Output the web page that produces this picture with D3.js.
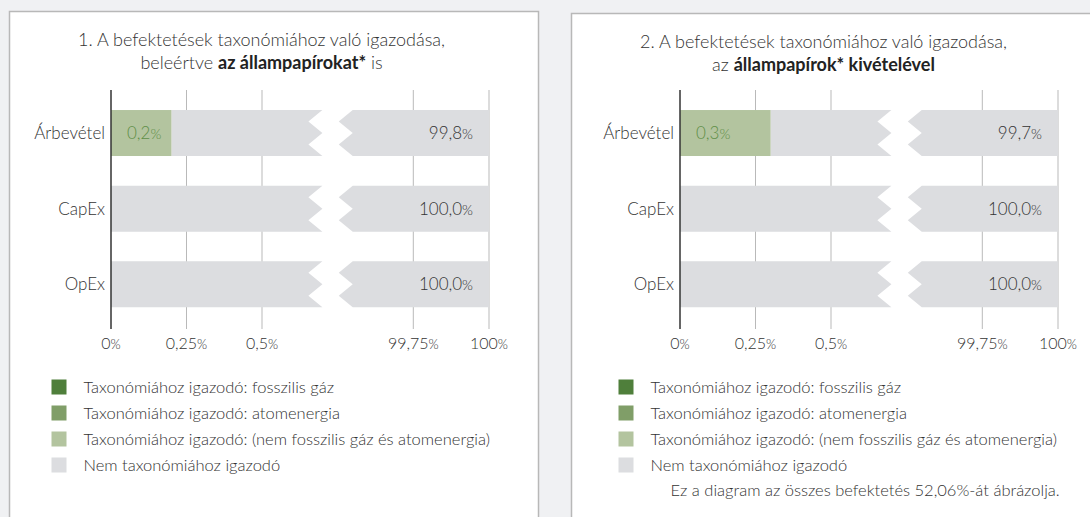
<!DOCTYPE html>
<html>
<head>
<meta charset="utf-8">
<script src="https://cdn.jsdelivr.net/npm/d3@7"></script>
<style>
  body { margin: 0; background: #f0f1f3; }
  svg { display: block; font-family: Lato, "Open Sans", sans-serif; }
</style>
</head>
<body>
<svg id="chart" width="1090" height="517"></svg>
<script>
// data
var categories = ["Árbevétel", "CapEx", "OpEx"];
var alignedIncl = [0.2, 0, 0];
var notAlignedIncl = [99.8, 100, 100];
var alignedExcl = [0.3, 0, 0];
var notAlignedExcl = [99.7, 100, 100];
var tickValues = [0, 0.25, 0.5, 99.75, 100];
var tickLabels = ["0", "0,25", "0,5", "99,75", "100"];
var legendLabels = [
  "Taxonómiához igazodó: fosszilis gáz",
  "Taxonómiához igazodó: atomenergia",
  "Taxonómiához igazodó: (nem fosszilis gáz és atomenergia)",
  "Nem taxonómiához igazodó"
];
var legendColors = ["#4f7f3b", "#809e68", "#b3c49f", "#dcdde0"];
var footnote = "Ez a diagram az összes befektetés 52,06%-át ábrázolja.";

var panels = [
  {x: 0, box: [9.5, 11.5], legendX: 42, title: ["1. A befektetések taxonómiához való igazodása,", [["beleértve ", 300], ["az állampapírokat*", 700], [" is", 300]]],
   aligned: alignedIncl, rest: notAlignedIncl, note: null},
  {x: 569, box: [571.5, 13.5], legendX: 47, title: ["2. A befektetések taxonómiához való igazodása,", [["az ", 300], ["állampapírok* kivételével", 700]]],
   aligned: alignedExcl, rest: notAlignedExcl, note: footnote}
];

var svg = d3.select("#chart");
var fmt = function(v) { return v.toFixed(1).replace(".", ","); };

// broken axis: two linear pieces
var breakL = 0.7, breakR = 99.55, notch = 14;

panels.forEach(function(p) {
  var bx = p.box[0], by = p.box[1];
  svg.append("rect")
      .attr("x", bx).attr("y", by)
      .attr("width", 529).attr("height", 530)
      .attr("fill", "#fff").attr("stroke", "#b8b8b8").attr("stroke-width", 1.5);

  // title, centred in the panel
  var tx = bx + 252;
  var title = svg.append("text").attr("x", tx).attr("y", by + 34.5)
      .attr("text-anchor", "middle").attr("font-size", 18).attr("fill", "#333").attr("font-weight", 300);
  title.append("tspan").attr("x", tx).text(p.title[0]);
  var t2 = title.append("tspan").attr("x", tx).attr("dy", 22.5);
  p.title[1].forEach(function(s) {
    t2.append("tspan").attr("font-weight", s[1]).attr("fill", s[1] > 400 ? "#222" : "#333").text(s[0]);
  });

  var g = svg.append("g").attr("transform", "translate(" + p.x + ",0)");

  var xL = d3.scaleLinear().domain([0, 0.5]).range([111, 262]);
  var xR = d3.scaleLinear().domain([99.75, 100]).range([413.3, 489]);
  var x = function(v) { return v > 50 ? xR(v) : xL(v); };
  var y = d3.scaleBand().domain(categories).range([94.9, 322.4]).paddingInner(0.392).paddingOuter(0.2);

  // grid ticks
  g.selectAll(".grid").data(tickValues.slice(1)).enter().append("line")
      .attr("x1", function(d) { return x(d); }).attr("x2", function(d) { return x(d); })
      .attr("y1", 90).attr("y2", 329)
      .attr("stroke", "#b9b9b9").attr("stroke-width", 1);

  // bars
  var h = y.bandwidth(), q = h / 4;
  var bars = g.selectAll(".bar").data(categories).enter().append("g")
      .attr("transform", function(d) { return "translate(0," + y(d) + ")"; });

  // left gray piece with zigzag end
  bars.append("path")
      .attr("fill", "#dcdde0")
      .attr("d", function(d, i) {
        var x0 = x(p.aligned[i]), x1 = x(breakL);
        return "M" + x0 + ",0H" + x1 + "L" + (x1 - notch) + "," + q + "L" + x1 + "," + 2 * q +
               "L" + (x1 - notch) + "," + 3 * q + "L" + x1 + "," + h + "H" + x0 + "Z";
      });
  // right gray piece with zigzag start
  bars.append("path")
      .attr("fill", "#dcdde0")
      .attr("d", function(d, i) {
        var x0 = x(breakR), x1 = x(100);
        return "M" + x0 + ",0H" + x1 + "V" + h + "H" + x0 + "L" + (x0 - notch) + "," + 3 * q +
               "L" + x0 + "," + 2 * q + "L" + (x0 - notch) + "," + q + "Z";
      });
  // aligned piece
  bars.filter(function(d, i) { return p.aligned[i] > 0; }).append("rect")
      .attr("x", x(0))
      .attr("width", function(d) { return x(p.aligned[categories.indexOf(d)]) - x(0); })
      .attr("height", h)
      .attr("fill", legendColors[2]);

  // value labels
  bars.filter(function(d, i) { return p.aligned[i] > 0; }).append("text")
      .attr("x", x(0) + 16).attr("y", h / 2).attr("dy", "0.36em")
      .attr("font-size", 17).attr("font-weight", 300).attr("fill", "#5f8f48")
      .each(function(d) {
        var t = d3.select(this);
        t.append("tspan").text(fmt(p.aligned[categories.indexOf(d)]));
        t.append("tspan").attr("font-size", 14).text("%");
      });
  bars.append("text")
      .attr("x", x(100) - 16).attr("y", h / 2).attr("dy", "0.36em")
      .attr("text-anchor", "end")
      .attr("font-size", 17).attr("font-weight", 300).attr("fill", "#333")
      .each(function(d, i) {
        var t = d3.select(this);
        t.append("tspan").text(fmt(p.rest[i]));
        t.append("tspan").attr("font-size", 14).text("%");
      });

  // category labels
  bars.append("text")
      .attr("x", x(0) - 6).attr("y", h / 2).attr("dy", "0.36em")
      .attr("text-anchor", "end").attr("font-size", 17).attr("font-weight", 300).attr("fill", "#333")
      .text(function(d) { return d; });

  // zero axis line
  g.append("line").attr("x1", x(0)).attr("x2", x(0)).attr("y1", 90).attr("y2", 329)
      .attr("stroke", "#333").attr("stroke-width", 1.5);

  // tick labels
  g.selectAll(".tl").data(tickValues).enter().append("text")
      .attr("x", function(d) { return x(d); }).attr("y", 349)
      .attr("text-anchor", "middle").attr("font-size", 16).attr("font-weight", 300).attr("fill", "#333")
      .each(function(d, i) {
        var t = d3.select(this);
        t.append("tspan").text(tickLabels[i]);
        t.append("tspan").attr("font-size", 13).text("%");
      });

  // legend, placed relative to the panel box
  var lg = svg.selectAll(null).data(legendLabels).enter().append("g")
      .attr("transform", function(d, i) { return "translate(" + (bx + p.legendX) + "," + (387 + i * 26) + ")"; });
  lg.append("rect").attr("x", 0).attr("y", -7.5).attr("width", 15).attr("height", 15)
      .attr("fill", function(d, i) { return legendColors[i]; });
  lg.append("text").attr("x", 32).attr("y", 0).attr("dy", "0.36em")
      .attr("font-size", 16.5).attr("font-weight", 300).attr("fill", "#333")
      .text(function(d) { return d; });

  if (p.note) {
    svg.append("text").attr("x", bx + 99).attr("y", 490).attr("dy", "0.36em")
        .attr("font-size", 16.5).attr("font-weight", 300).attr("fill", "#333")
        .text(p.note);
  }
});
</script>
</body>
</html>
